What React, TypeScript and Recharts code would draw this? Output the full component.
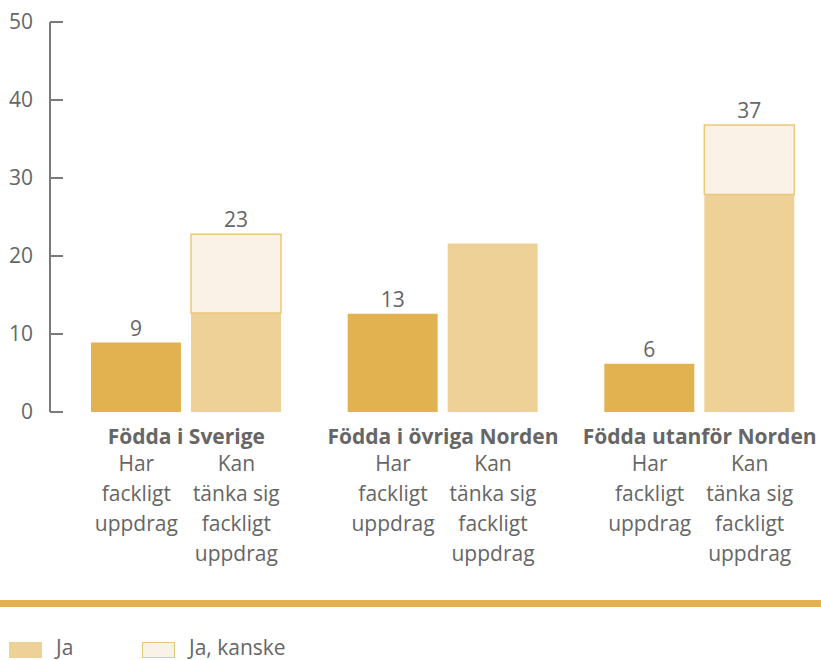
import React from "react";
import { BarChart, Bar, XAxis, YAxis, LabelList, Legend } from "recharts";

const groups = ["Födda i Sverige", "Födda i övriga Norden", "Födda utanför Norden"];
const barLabels = [
  ["Har", "fackligt", "uppdrag"],
  ["Kan", "tänka sig", "fackligt", "uppdrag"],
];
const harUppdrag = [8.9, 12.6, 6.2];
const kanJa = [12.7, 21.6, 27.9];
const kanKanske = [10.1, 0, 8.9];
const yTicks = [0, 10, 20, 30, 40, 50];
const seriesNames = ["Har fackligt uppdrag", "Ja", "Ja, kanske"];

const data = groups.map((g, i) => ({
  group: g,
  har: harUppdrag[i],
  ja: kanJa[i],
  kanske: kanKanske[i],
}));

const FONT = "'Open Sans', 'Noto Sans', sans-serif";
const TEXT = "#666666";
const AXIS = "#7a7a7a";
const DARK = "#E1B24F";
const LIGHT = "#EDD196";
const PALE = "#FAF2E6";
const PALE_STROKE = "#EBC779";

const YTick = (props: any) => {
  const { x, y, payload } = props;
  return (
    <g>
      <line x1={x + 17} x2={x + 30} y1={y} y2={y} stroke={AXIS} strokeWidth={2} />
      <text x={x} y={y} dy={7} textAnchor="end" fontSize={21} fill={TEXT} fontFamily={FONT}>
        {payload.value}
      </text>
    </g>
  );
};

const XTick = (props: any) => {
  const { x, y, payload } = props;
  return (
    <g>
      <text x={x} y={y + 32} textAnchor="middle" fontWeight="bold" fontSize={21} fill={TEXT} fontFamily={FONT}>
        {payload.value}
      </text>
      {barLabels.map((lines, k) => {
        const cx = x + (k === 0 ? -50 : 50);
        return (
          <text key={k} textAnchor="middle" fontSize={21} fill={TEXT} fontFamily={FONT}>
            {lines.map((l, j) => (
              <tspan key={j} x={cx} y={y + 59 + j * 30}>
                {l}
              </tspan>
            ))}
          </text>
        );
      })}
    </g>
  );
};

const LegendContent = (props: any) => {
  const items = (props.payload || []).filter((e: any) => e.type !== "none");
  return (
    <div style={{ width: 821, height: 65, position: "relative", fontFamily: FONT }}>
      <div style={{ position: "absolute", left: 0, top: 10, width: 821, height: 7, background: DARK }} />
      <div style={{ position: "absolute", left: 9, top: 50, display: "flex", whiteSpace: "nowrap" }}>
        {items.map((e: any, i: number) => {
          const stroke = e.payload && e.payload.stroke;
          return (
            <div key={i} style={{ display: "flex", alignItems: "center", width: i === 0 ? 133 : 200, height: 20 }}>
              <div
                style={{
                  width: stroke ? 31 : 33,
                  height: stroke ? 14 : 16,
                  background: e.color,
                  border: stroke ? `1px solid ${stroke}` : "none",
                  marginRight: 14,
                  flexShrink: 0,
                }}
              />
              <span
                style={{
                  fontSize: 21,
                  color: TEXT,
                  lineHeight: "20px",
                  whiteSpace: "nowrap",
                  position: "relative",
                  top: -3,
                }}
              >
                {e.value}
              </span>
            </div>
          );
        })}
      </div>
    </div>
  );
};

export default function App() {
  return (
    <div style={{ position: "absolute", left: 0, top: 0, width: 821, height: 660, overflow: "hidden", background: "#fff" }}>
      <BarChart
        width={830}
        height={660}
        data={data}
        margin={{ top: 22, right: 2, left: 0, bottom: 13 }}
        barSize={90}
        barGap={10}
        style={{ fontFamily: FONT }}
      >
        <YAxis
          domain={[0, 50]}
          ticks={yTicks}
          width={50}
          tickSize={0}
          tickMargin={17}
          axisLine={{ stroke: AXIS, strokeWidth: 2 }}
          tickLine={false}
          tick={<YTick />}
          interval={0}
        />
        <XAxis
          dataKey="group"
          height={170}
          axisLine={false}
          tickLine={false}
          tickSize={0}
          tickMargin={0}
          padding={{ left: 8, right: 0 }}
          tick={<XTick />}
          interval={0}
        />
        <Legend
          content={<LegendContent />}
          verticalAlign="bottom"
          wrapperStyle={{ left: 0, top: 590, width: 821 }}
        />
        <Bar dataKey="har" name={seriesNames[0]} stackId="har" fill={DARK} legendType="none" isAnimationActive={false}>
          <LabelList position="top" offset={7} fill={TEXT} fontSize={21} formatter={(v: any) => Math.round(Number(v))} />
        </Bar>
        <Bar dataKey="ja" name={seriesNames[1]} stackId="kan" fill={LIGHT} isAnimationActive={false} />
        <Bar
          dataKey="kanske"
          name={seriesNames[2]}
          stackId="kan"
          fill={PALE}
          stroke={PALE_STROKE}
          strokeWidth={1.5}
          isAnimationActive={false}
        >
          <LabelList position="top" offset={7} fill={TEXT} fontSize={21} formatter={(v: any) => Math.round(Number(v))} />
        </Bar>
      </BarChart>
    </div>
  );
}
